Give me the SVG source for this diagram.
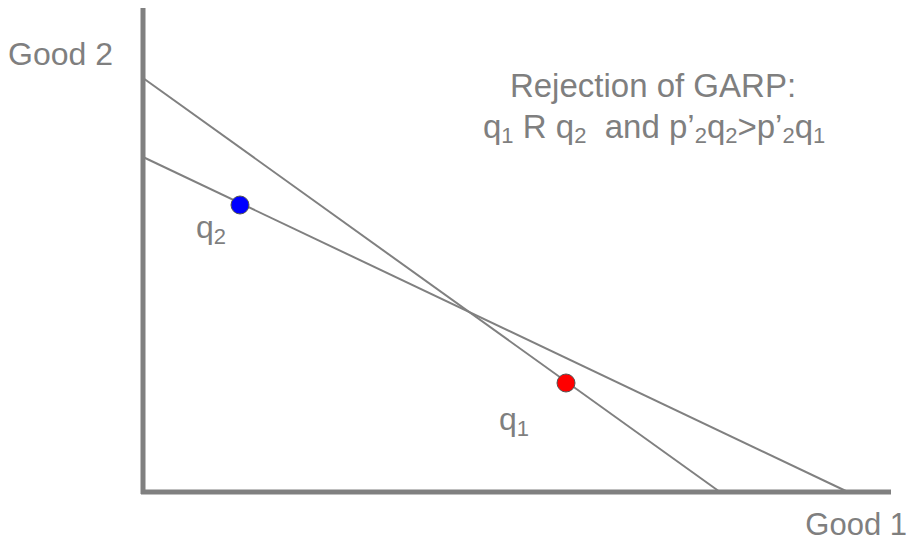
<svg xmlns="http://www.w3.org/2000/svg" width="913" height="544" viewBox="0 0 913 544">
<style>
text{font-family:"Liberation Sans",Arial,sans-serif;font-size:32px;fill:#7f7f7f}
.t{font-size:33px}
.g1{font-size:31px}
.axis{stroke:#808080;stroke-width:5;fill:none}
.bl{stroke:#808080;stroke-width:2;fill:none}
.sub{font-size:22px}
</style>
<rect width="913" height="544" fill="#fff"/>
<g id="connectors">
<line class="bl" x1="143" y1="78" x2="720" y2="492"/>
<line class="bl" x1="143" y1="157" x2="848" y2="492"/>
<line id="yaxis" class="axis" x1="143" y1="8" x2="143" y2="494"/>
<line id="xaxis" class="axis" x1="141" y1="492" x2="891" y2="492"/>
</g>
<g id="q2">
<circle cx="240" cy="205" r="9" fill="#0000ff" stroke="#555" stroke-width="1"/>
<text x="196" y="238">q<tspan class="sub" dy="6">2</tspan></text>
</g>
<g id="q1">
<circle cx="566" cy="383" r="9" fill="#ff0000" stroke="#555" stroke-width="1"/>
<text x="499" y="430">q<tspan class="sub" dy="6">1</tspan></text>
</g>
<g id="labels">
<text x="8" y="65">Good 2</text>
<text class="g1" x="907" y="535" text-anchor="end">Good 1</text>
<text class="t" x="653" y="97" text-anchor="middle">Rejection of GARP:</text>
<text class="t" x="483" y="138">q<tspan class="sub" dy="5">1</tspan><tspan dy="-5"> R q</tspan><tspan class="sub" dy="5">2</tspan><tspan dy="-5" xml:space="preserve">  and p’</tspan><tspan class="sub" dy="5">2</tspan><tspan dy="-5">q</tspan><tspan class="sub" dy="5">2</tspan><tspan dy="-5">&gt;p’</tspan><tspan class="sub" dy="5">2</tspan><tspan dy="-5">q</tspan><tspan class="sub" dy="5">1</tspan></text>
</g>
</svg>
